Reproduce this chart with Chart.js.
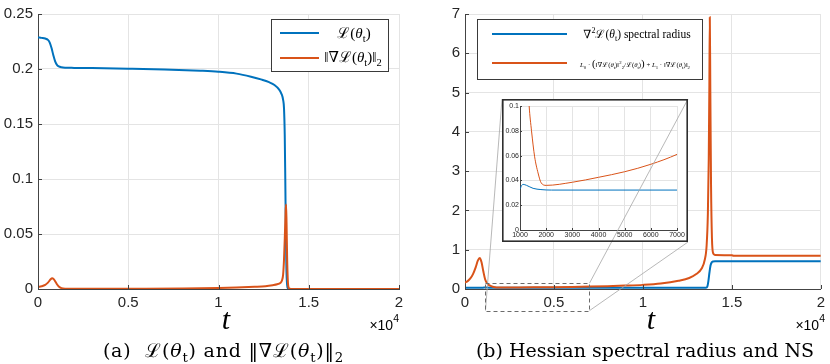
<!DOCTYPE html>
<html>
<head>
<meta charset="utf-8">
<script src="https://cdn.jsdelivr.net/npm/chart.js@4.4.1/dist/chart.umd.min.js"></script>
<style>
  body { margin: 0; background: #fff; }
  #wrap { position: relative; width: 830px; height: 364px; overflow: hidden; background: #fff; }
  canvas { position: absolute; }
  .txt { position: absolute; white-space: nowrap; color: #000; font-family: "Liberation Serif", "DejaVu Serif", serif; }
  .cap { font-family: "DejaVu Serif", serif; }
  .legend { position: absolute; background: #fff; border: 1px solid #3a3a3a; box-sizing: border-box; }
  .swatch { position: absolute; height: 2px; }
  sub, sup { font-size: 0.7em; line-height: 0; }
</style>
</head>
<body>
<div id="wrap">
  <canvas id="lossChart" width="415" height="364" style="left:0;top:0"></canvas>
  <canvas id="hessChart" width="415" height="364" style="left:415px;top:0"></canvas>
  <canvas id="insetChart" width="186" height="143" style="left:502px;top:99px;background:#fff"></canvas>
  <canvas id="overlay" width="830" height="364" style="left:0;top:0;pointer-events:none"></canvas>

  <!-- legend (a) -->
  <div class="legend" style="left:271px;top:19px;width:118px;height:53px"></div>
  <div class="swatch" style="left:280px;top:32px;width:39px;background:#0072BD"></div>
  <div class="swatch" style="left:280px;top:57px;width:39px;background:#D95319"></div>
  <div class="txt" style="left:314px;top:24px;width:80px;text-align:center;font-size:15px;line-height:18px">ℒ(<i>θ</i><sub>t</sub>)</div>
  <div class="txt" style="left:313px;top:48px;width:80px;text-align:center;font-size:15px;line-height:18px">‖∇ℒ(<i>θ</i><sub>t</sub>)‖<sub>2</sub></div>

  <!-- legend (b) -->
  <div class="legend" style="left:477px;top:19px;width:226px;height:61px"></div>
  <div class="swatch" style="left:492px;top:33px;width:75px;background:#0072BD"></div>
  <div class="swatch" style="left:492px;top:62px;width:75px;background:#D95319"></div>
  <div class="txt" style="left:577px;top:27px;width:120px;text-align:center;font-size:11.5px;line-height:14px">∇<sup>2</sup>ℒ(<i>θ</i><sub>t</sub>) spectral radius</div>
  <div class="txt" style="left:565px;top:57px;width:140px;text-align:center;font-size:6.8px;line-height:12px"><i>L</i><sub>0</sub> · <span style="font-size:1.6em">(</span>‖∇ℒ(<i>θ</i><sub>t</sub>)‖<sup>2</sup><sub>2</sub>/ℒ(<i>θ</i><sub>t</sub>)<span style="font-size:1.6em">)</span> + <i>L</i><sub>1</sub> · ‖∇ℒ(<i>θ</i><sub>t</sub>)‖<sub>2</sub></div>

  <!-- axis labels -->
  <div class="txt" style="left:186px;top:302px;width:80px;text-align:center;font-size:30px;line-height:34px;font-style:italic">t</div>
  <div class="txt" style="left:611px;top:302px;width:80px;text-align:center;font-size:30px;line-height:34px;font-style:italic">t</div>
  <div class="txt" style="left:339px;top:317px;width:60px;text-align:right;font-family:'Liberation Sans',sans-serif;font-size:14px;line-height:16px">×10<sup style="font-size:0.75em;position:relative;top:-2px">4</sup></div>
  <div class="txt" style="left:765px;top:317px;width:60px;text-align:right;font-family:'Liberation Sans',sans-serif;font-size:14px;line-height:16px">×10<sup style="font-size:0.75em;position:relative;top:-2px">4</sup></div>

  <!-- captions -->
  <div class="txt cap" style="left:0;top:339px;width:447px;text-align:center;font-size:19px;line-height:22px;letter-spacing:0.8px">(a)&nbsp;&nbsp;ℒ(<i>θ</i><sub>t</sub>) and ‖∇ℒ(<i>θ</i><sub>t</sub>)‖<sub>2</sub></div>
  <div class="txt cap" style="left:415px;top:339px;width:460px;text-align:center;font-size:19px;line-height:22px">(b) Hessian spectral radius and NS</div>
</div>

<script>
// (a) training loss and gradient norm
const lossT = [0, 200, 400, 550, 650, 750, 850, 950, 1050, 1150, 1300, 1500, 2000, 3000, 5000, 7000, 9000, 10000, 11000, 11800, 12400, 12800, 13100, 13350, 13500, 13580, 13630, 13670, 13700, 13730, 13760, 13800, 13850, 13950, 16000, 20000]
const lossVals = [0.2287, 0.2283, 0.2277, 0.2265, 0.2240, 0.2190, 0.2125, 0.2070, 0.2038, 0.2024, 0.2016, 0.2012, 0.2010, 0.2008, 0.2003, 0.1996, 0.1984, 0.1975, 0.1958, 0.1930, 0.1903, 0.1880, 0.1855, 0.1815, 0.1770, 0.1720, 0.1640, 0.1400, 0.1000, 0.0550, 0.0200, 0.0040, 0.0005, 0, 0, 0]

const gradT = [0, 200, 400, 550, 700, 780, 860, 950, 1050, 1150, 1300, 1500, 2000, 4000, 6000, 8000, 10000, 11000, 12000, 12600, 13000, 13250, 13420, 13520, 13580, 13630, 13680, 13720, 13745, 13770, 13800, 13840, 13880, 13950, 14100, 20000]
const gradVals = [0.0018, 0.0025, 0.0038, 0.0058, 0.0088, 0.0098, 0.0092, 0.0070, 0.0043, 0.0022, 0.0008, 0.0003, 0.0002, 0.0002, 0.0003, 0.0005, 0.0009, 0.0013, 0.0020, 0.0026, 0.0035, 0.0043, 0.0055, 0.0080, 0.0130, 0.0270, 0.0500, 0.0710, 0.0768, 0.0600, 0.0300, 0.0080, 0.0015, 0.0002, 0, 0]

// (b) Hessian spectral radius and NS bound
const hessT = [0, 300, 700, 1000, 1050, 1120, 1250, 1500, 1800, 2200, 7000, 12000, 13550, 13620, 13680, 13740, 13800, 13870, 13950, 14050, 20000]
const hessVals = [0.030, 0.031, 0.032, 0.033, 0.0355, 0.0368, 0.036, 0.0336, 0.0326, 0.0322, 0.0322, 0.032, 0.033, 0.06, 0.2, 0.42, 0.6, 0.68, 0.70, 0.705, 0.705]

const nsT = [0, 150, 300, 450, 600, 720, 830, 930, 1030, 1130, 1250, 1350, 1440, 1560, 1690, 1810, 2000, 3000, 4000, 5000, 6000, 7000, 8000, 9000, 10000, 11000, 12000, 12600, 13000, 13300, 13480, 13580, 13650, 13700, 13735, 13760, 13790, 13830, 13880, 13940, 14050, 15000, 15100, 20000]
const nsVals = [0.16, 0.2, 0.27, 0.38, 0.55, 0.72, 0.79, 0.68, 0.45, 0.25, 0.14, 0.10, 0.080, 0.059, 0.046, 0.038, 0.036, 0.0385, 0.0425, 0.047, 0.053, 0.061, 0.072, 0.086, 0.105, 0.14, 0.21, 0.28, 0.38, 0.52, 0.75, 1.1, 1.9, 3.3, 5.2, 6.92, 5.0, 2.6, 1.3, 0.92, 0.865, 0.86, 0.845, 0.845]

// zoomed window shown in the inset (t range, y range of the dashed box)
const zoomT = [1150, 7000]
const zoomY = [-0.55, 0.15]

const blue = '#0072BD'
const orange = '#D95319'

function pts(ts, vs) {
  return ts.map((t, i) => ({ x: t, y: vs[i] }))
}

// matlab style ticks pointing into the axes
const innerTicks = {
  id: 'innerTicks',
  afterDraw(chart, args, opts) {
    const { ctx, chartArea: a, scales: { x, y } } = chart
    const len = opts.len || 4
    ctx.save()
    ctx.strokeStyle = '#404040'
    ctx.lineWidth = 1
    ctx.beginPath()
    x.ticks.forEach(t => {
      const px = Math.round(x.getPixelForValue(t.value)) + 0.5
      ctx.moveTo(px, a.bottom)
      ctx.lineTo(px, a.bottom - len)
    })
    y.ticks.forEach(t => {
      const py = Math.round(y.getPixelForValue(t.value)) + 0.5
      ctx.moveTo(a.left, py)
      ctx.lineTo(a.left + len, py)
    })
    ctx.stroke()
    ctx.restore()
  }
}

const shortNum = v => String(Math.round(v * 10000) / 10000)

function makeConfig(sets, o) {
  return {
    type: 'line',
    data: { datasets: sets },
    options: {
      responsive: false,
      animation: false,
      events: [],
      layout: { padding: { left: 0, right: o.padRight, top: o.padTop, bottom: 0 } },
      elements: {
        point: { radius: 0 },
        line: { borderWidth: o.lineWidth, cubicInterpolationMode: 'monotone' }
      },
      plugins: {
        legend: { display: false },
        tooltip: { enabled: false },
        innerTicks: { len: o.tickLen }
      },
      scales: {
        x: {
          type: 'linear',
          min: o.xMin,
          max: o.xMax,
          afterFit: s => { s.height = o.xHeight },
          ticks: {
            stepSize: o.xStep,
            padding: o.tickPad,
            maxRotation: 0,
            color: '#262626',
            font: { family: 'Liberation Sans', size: o.fontSize },
            callback: o.xLabel
          },
          grid: { color: '#e4e4e4', drawTicks: false },
          border: { color: '#444' }
        },
        y: {
          min: 0,
          max: o.yMax,
          afterFit: s => { s.width = o.yWidth },
          ticks: {
            stepSize: o.yStep,
            padding: o.tickPad,
            color: '#262626',
            font: { family: 'Liberation Sans', size: o.fontSize },
            callback: shortNum
          },
          grid: { color: '#e4e4e4', drawTicks: false },
          border: { color: '#444' }
        }
      }
    },
    plugins: [innerTicks]
  }
}

const mainOpts = {
  xMin: 0, xMax: 20000, xStep: 5000, xHeight: 75, padTop: 11, tickPad: 5,
  fontSize: 15, lineWidth: 2, tickLen: 4, xLabel: v => shortNum(v / 10000)
}

const lossChart = new Chart(document.getElementById('lossChart'), makeConfig([
  { data: pts(lossT, lossVals), borderColor: blue, order: 1 },
  { data: pts(gradT, gradVals), borderColor: orange, order: 0 }
], Object.assign({}, mainOpts, { yMax: 0.25, yStep: 0.05, yWidth: 38, padRight: 16 })))

const hessChart = new Chart(document.getElementById('hessChart'), makeConfig([
  { data: pts(hessT, hessVals), borderColor: blue, order: 1 },
  { data: pts(nsT, nsVals), borderColor: orange, order: 0 }
], Object.assign({}, mainOpts, { yMax: 7, yStep: 1, yWidth: 50, padRight: 5 })))

const insetChart = new Chart(document.getElementById('insetChart'), makeConfig([
  { data: pts(hessT, hessVals), borderColor: blue, order: 1 },
  { data: pts(nsT, nsVals), borderColor: orange, order: 0 }
], {
  xMin: 1000, xMax: 7000, xStep: 1000, xHeight: 12, padTop: 7, padRight: 11, tickPad: 1,
  fontSize: 7, lineWidth: 1, tickLen: 2, yMax: 0.1, yStep: 0.02, yWidth: 18, xLabel: v => v
}))

// dashed zoom box, inset frame and connector lines
function drawZoomMarks() {
  const ctx = document.getElementById('overlay').getContext('2d')
  const xs = hessChart.scales.x
  const ys = hessChart.scales.y
  const off = 415
  const rx0 = xs.getPixelForValue(zoomT[0]) + off
  const rx1 = xs.getPixelForValue(zoomT[1]) + off
  const ryTop = ys.getPixelForValue(zoomY[1])
  const ryBot = ys.getPixelForValue(zoomY[0])
  const box = { l: 502, t: 99, r: 688, b: 242 }

  ctx.strokeStyle = '#a6a6a6'
  ctx.lineWidth = 0.8
  ctx.beginPath()
  ctx.moveTo(box.l, box.t); ctx.lineTo(rx0, ryBot)
  ctx.moveTo(box.r, box.t); ctx.lineTo(rx1, ryTop)
  ctx.moveTo(box.r, box.b); ctx.lineTo(rx1, ryBot)
  ctx.stroke()

  ctx.strokeStyle = '#6b6b6b'
  ctx.lineWidth = 1
  ctx.setLineDash([4, 3])
  ctx.strokeRect(Math.round(rx0) + 0.5, Math.round(ryTop) + 0.5, Math.round(rx1 - rx0), Math.round(ryBot - ryTop))
  ctx.setLineDash([])

  ctx.strokeStyle = '#2e2e2e'
  ctx.lineWidth = 1.6
  ctx.strokeRect(box.l + 0.8, box.t + 0.8, box.r - box.l - 1.6, box.b - box.t - 1.6)
}
drawZoomMarks()
</script>
</body>
</html>
